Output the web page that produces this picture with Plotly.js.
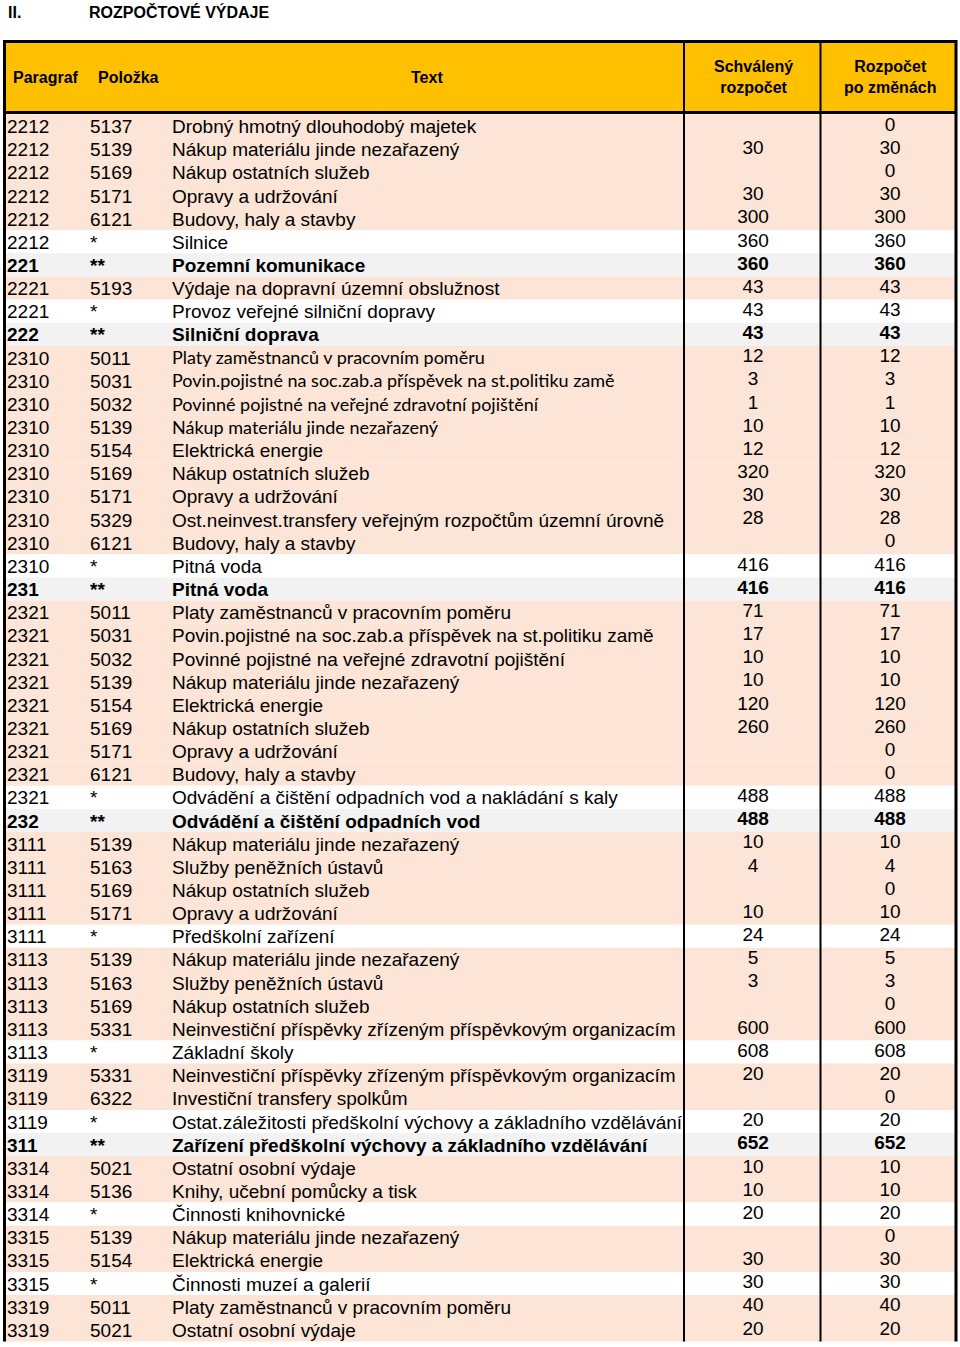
<!DOCTYPE html>
<html><head><meta charset="utf-8">
<script src="https://cdn.plot.ly/plotly-3.0.1.min.js"></script>
<style>html,body{margin:0;padding:0;background:#fff}</style>
</head><body><div id="chart" style="width:960px;height:1347px"></div>
<script>
const paragraf = ["2212","2212","2212","2212","2212","2212","221","2221","2221","222",
"2310","2310","2310","2310","2310","2310","2310","2310","2310","2310","231",
"2321","2321","2321","2321","2321","2321","2321","2321","2321","232",
"3111","3111","3111","3111","3111","3113","3113","3113","3113","3113",
"3119","3119","3119","311","3314","3314","3314","3315","3315","3315","3319","3319"];
const polozka = ["5137","5139","5169","5171","6121","*","**","5193","*","**",
"5011","5031","5032","5139","5154","5169","5171","5329","6121","*","**",
"5011","5031","5032","5139","5154","5169","5171","6121","*","**",
"5139","5163","5169","5171","*","5139","5163","5169","5331","*",
"5331","6322","*","**","5021","5136","*","5139","5154","*","5011","5021"];
const texty = ["Drobný hmotný dlouhodobý majetek","Nákup materiálu jinde nezařazený","Nákup ostatních služeb","Opravy a udržování","Budovy, haly a stavby","Silnice","Pozemní komunikace","Výdaje na dopravní územní obslužnost","Provoz veřejné silniční dopravy","Silniční doprava",
"Platy zaměstnanců v pracovním poměru","Povin.pojistné na soc.zab.a příspěvek na st.politiku zamě","Povinné pojistné na veřejné zdravotní pojištění","Nákup materiálu jinde nezařazený","Elektrická energie","Nákup ostatních služeb","Opravy a udržování","Ost.neinvest.transfery veřejným rozpočtům územní úrovně","Budovy, haly a stavby","Pitná voda","Pitná voda",
"Platy zaměstnanců v pracovním poměru","Povin.pojistné na soc.zab.a příspěvek na st.politiku zamě","Povinné pojistné na veřejné zdravotní pojištění","Nákup materiálu jinde nezařazený","Elektrická energie","Nákup ostatních služeb","Opravy a udržování","Budovy, haly a stavby","Odvádění a čištění odpadních vod a nakládání s kaly","Odvádění a čištění odpadních vod",
"Nákup materiálu jinde nezařazený","Služby peněžních ústavů","Nákup ostatních služeb","Opravy a udržování","Předškolní zařízení","Nákup materiálu jinde nezařazený","Služby peněžních ústavů","Nákup ostatních služeb","Neinvestiční příspěvky zřízeným příspěvkovým organizacím","Základní školy",
"Neinvestiční příspěvky zřízeným příspěvkovým organizacím","Investiční transfery spolkům","Ostat.záležitosti předškolní výchovy a základního vzdělávání","Zařízení předškolní výchovy a základního vzdělávání",
"Ostatní osobní výdaje","Knihy, učební pomůcky a tisk","Činnosti knihovnické","Nákup materiálu jinde nezařazený","Elektrická energie","Činnosti muzeí a galerií","Platy zaměstnanců v pracovním poměru","Ostatní osobní výdaje"];
const schvaleny = [null,30,null,30,300,360,360,43,43,43,
12,3,1,10,12,320,30,28,null,416,416,
71,17,10,10,120,260,null,null,488,488,
10,4,null,10,24,5,3,null,600,608,
20,null,20,652,10,10,20,null,30,30,40,20];
const poZmenach = [0,30,0,30,300,360,360,43,43,43,
12,3,1,10,12,320,30,28,0,416,416,
71,17,10,10,120,260,0,0,488,488,
10,4,0,10,24,5,3,0,600,608,
20,0,20,652,10,10,20,0,30,30,40,20];
const headers = ["Paragraf","Položka","Text","Schválený<br>rozpočet","Rozpočet<br>po změnách"];
const nazev = ["II.","ROZPOČTOVÉ VÝDAJE"];
// rows whose text column used a different (Calibri-like) font
const narrowRows = [10,11,12,13];

const N = paragraf.length;
const ROWH = 23.15, ROW0 = 126;
const py = p => (p - ROW0) / ROWH;
const ARIAL = "Liberation Sans, Arial, sans-serif";
const NARROW = "Lato, Carlito, sans-serif";
const FS = 19;
const TEXT_DY = 0.1, VAL_DY = 0.0;

const idx = [...Array(N).keys()];
const isTotal = i => polozka[i] === "**";
const isSub = i => polozka[i] === "*";
const normalIdx = idx.filter(i => !isTotal(i));
const boldIdx = idx.filter(i => isTotal(i));

function textTrace(ids, xpos, vals, opts, dy) {
  return Object.assign({
    type: "scatter", mode: "text", x: ids.map(() => xpos), y: ids.map(i => i + dy),
    text: ids.map(i => vals[i] == null ? "" : String(vals[i])),
    textposition: "middle right", hoverinfo: "skip", showlegend: false,
    cliponaxis: false,
    textfont: {family: ARIAL, size: FS, color: "#000"}
  }, opts);
}
const boldFont = {family: ARIAL, size: FS, color: "#000", weight: "bold"};

const traces = [];
const cols = [{x: 7, v: paragraf}, {x: 90, v: polozka}];
cols.forEach(c => {
  traces.push(textTrace(normalIdx, c.x, c.v, {}, TEXT_DY));
  traces.push(textTrace(boldIdx, c.x, c.v, {textfont: boldFont}, TEXT_DY));
});
const textNormal = normalIdx.filter(i => !narrowRows.includes(i));
traces.push(textTrace(textNormal, 172, texty, {}, TEXT_DY));
traces.push(textTrace(narrowRows, 172, texty, {textfont: {family: NARROW, size: 18, color: "#000"}}, TEXT_DY));
traces.push(textTrace(boldIdx, 172, texty, {textfont: boldFont}, TEXT_DY));
[{x: 753, v: schvaleny}, {x: 890, v: poZmenach}].forEach(c => {
  traces.push(textTrace(normalIdx, c.x, c.v, {textposition: "middle center"}, VAL_DY));
  traces.push(textTrace(boldIdx, c.x, c.v, {textposition: "middle center", textfont: boldFont}, VAL_DY));
});

const shapes = [];
shapes.push({type: "rect", xref: "x", yref: "y", x0: 3, x1: 957, y0: py(40), y1: py(113), fillcolor: "#FFC000", line: {width: 0}, layer: "below"});
idx.forEach(i => {
  const col = isTotal(i) ? "#F2F2F2" : (isSub(i) ? "#FFFFFF" : "#FCE4D6");
  shapes.push({type: "rect", xref: "x", yref: "y", x0: 5, x1: 955, y0: i - 0.5, y1: i + 0.5, fillcolor: col, line: {width: 0}, layer: "below"});
});
const bottom = N - 0.5;
const ln = (x0, y0, x1, y1, w) => ({type: "line", xref: "x", yref: "y", x0, y0, x1, y1, line: {color: "#000", width: w}});
shapes.push(ln(3, py(41.5), 957, py(41.5), 3));
shapes.push(ln(3, py(112.5), 957, py(112.5), 3));
shapes.push(ln(4.5, py(40), 4.5, bottom, 3));
shapes.push(ln(956, py(40), 956, bottom, 3));
shapes.push(ln(684, py(40), 684, bottom, 2));
shapes.push(ln(820.5, py(40), 820.5, bottom, 2));

const hf = {family: ARIAL, size: 16, color: "#000", weight: "bold"};
const annotations = [
  {x: 6, y: py(12), text: nazev[0], xanchor: "left", font: hf},
  {x: 87, y: py(12), text: nazev[1], xanchor: "left", font: hf},
  {x: 11, y: py(77), text: headers[0], xanchor: "left", font: hf},
  {x: 96, y: py(77), text: headers[1], xanchor: "left", font: hf},
  {x: 427, y: py(77), text: headers[2], xanchor: "center", font: hf},
  {x: 753, y: py(77), text: headers[3], xanchor: "center", font: hf},
  {x: 890, y: py(77), text: headers[4], xanchor: "center", font: hf}
].map(a => Object.assign({xref: "x", yref: "y", showarrow: false, yanchor: "middle"}, a));

const layout = {
  width: 960, height: 1347, margin: {l: 0, r: 0, t: 0, b: 0},
  paper_bgcolor: "#fff", plot_bgcolor: "#fff",
  xaxis: {range: [0, 960], visible: false, fixedrange: true},
  yaxis: {range: [py(1347), py(0)], visible: false, fixedrange: true},
  shapes, annotations, hovermode: false, showlegend: false
};
Plotly.newPlot("chart", traces, layout, {staticPlot: true, displayModeBar: false});
</script></body></html>
